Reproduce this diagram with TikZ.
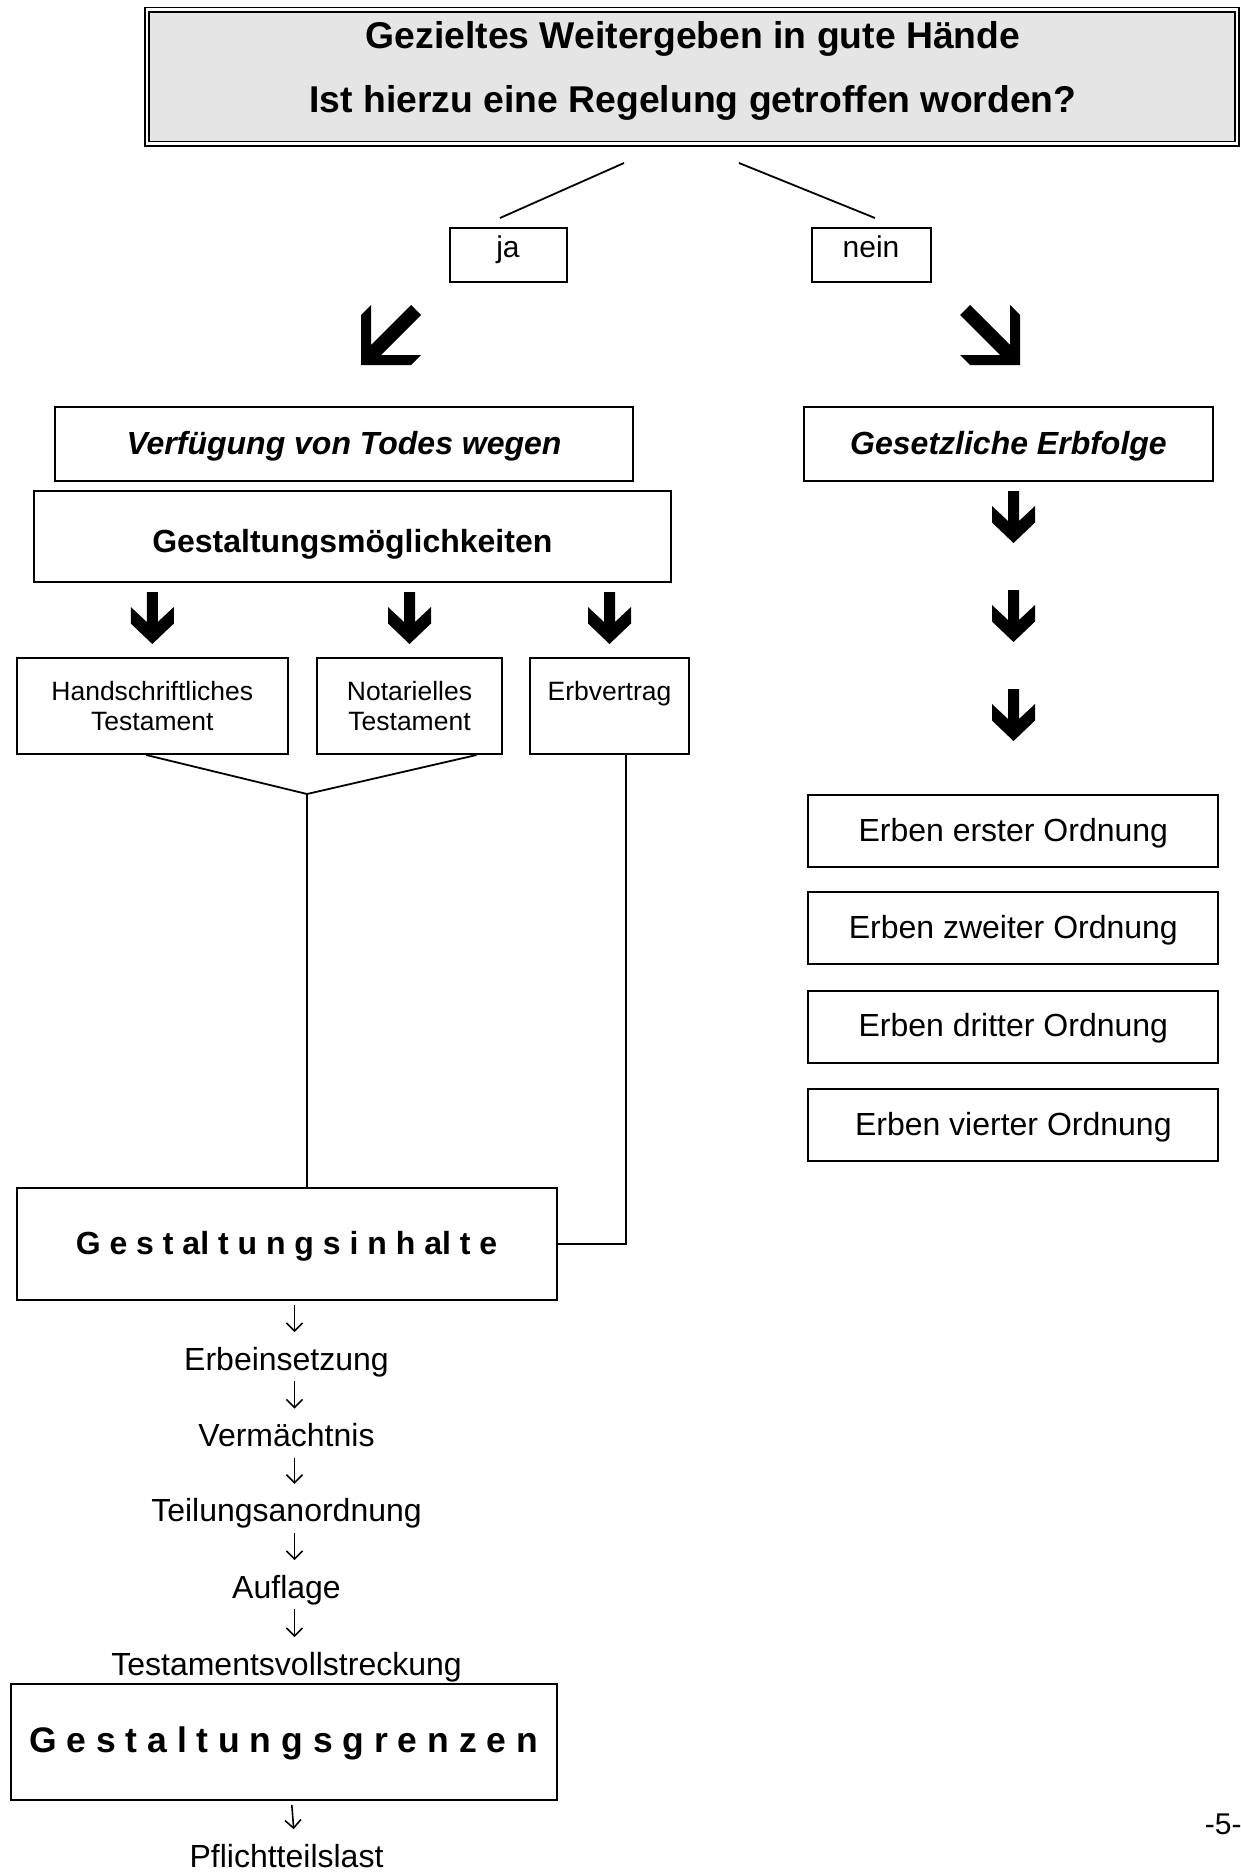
\documentclass[tikz,border=0pt]{standalone}
\usepackage{fontspec}
\setmainfont{Liberation Sans}
\usetikzlibrary{calc,arrows.meta}
\newcommand{\fsz}[2]{\fontsize{#1}{#2}\selectfont}

\begin{document}
\begin{tikzpicture}[x=1pt, y=-1pt, line width=1.8pt,
		every node/.style={inner sep=0pt},
		box/.style={draw, line width=2pt, align=center},
		onel/.style={text height=27pt, text depth=6.5pt},
		>={Straight Barb[length=8pt,width=16pt]},
		listarrow/.style={->, line width=1.6pt, shorten <=4pt, shorten >=10pt},
		bigdown/.pic={\fill (-5.5,0) -- (5.5,0) -- (5.5,30) -- (21.5,15) -- (21.5,31.5) -- (0,52) -- (-21.5,31.5) -- (-21.5,15) -- (-5.5,30) -- cycle;},
		swarrow/.pic={\fill (0,0) -- (0,-50) -- (10,-60) -- (10,-20) -- (50,-60) -- (60,-50) -- (20,-10) -- (60,-10) -- (50,0) -- cycle;},
		searrow/.pic={\fill (0,0) -- (0,-50) -- (-10,-60) -- (-10,-20) -- (-50,-60) -- (-60,-50) -- (-20,-10) -- (-60,-10) -- (-50,0) -- cycle;}]
		\useasboundingbox (0,0) rectangle (1241,1874);

		% Frage
		\node[draw, line width=1.6pt, double, double distance=2.8pt, fill=black!10,
			minimum width=1090pt, minimum height=134pt] (titlebox) at (692,76.7) {};
		\node[align=center, font=\fsz{37.3}{64}\bfseries] (title) at (693,71)
			{Gezieltes Weitergeben in gute Hände\\Ist hierzu eine Regelung getroffen worden?};

		% ja / nein
		\node[box, font=\fsz{30}{36}, minimum width=117pt, minimum height=54pt,
			text height=22pt, text depth=17pt] (ja) at (508,255) {ja};
		\node[box, font=\fsz{30}{36}, minimum width=119pt, minimum height=54pt,
			text height=22pt, text depth=17pt] (nein) at (871,255) {nein};
		\coordinate (jastart) at (624,163);
		\coordinate (jaend) at (500,218);
		\coordinate (neinstart) at (739,163);
		\coordinate (neinend) at (875,218);
		\draw (jastart) -- (jaend);
		\draw (neinstart) -- (neinend);
		\pic at (361,365) {swarrow};
		\pic at (1020,365) {searrow};

		% Linke Seite
		\node[box, onel, font=\fsz{32}{38}\bfseries\itshape, minimum width=578pt, minimum height=74pt] (verf) at (344,444) {Verfügung von Todes wegen};
		\node[box, font=\fsz{32}{38}\bfseries, minimum width=637pt, minimum height=91pt,
			text height=31pt, text depth=0pt] (gmoegl) at (352.3,536.6) {Gestaltungsmöglichkeiten};
		\pic at (152.3,592) {bigdown};
		\pic at (409.5,592) {bigdown};
		\pic at (609.5,592) {bigdown};
		\node[box, font=\fsz{26.5}{30}, minimum width=271pt, minimum height=96pt] (hand) at (152.3,706) {Handschriftliches\\Testament};
		\node[box, font=\fsz{26.5}{30}, minimum width=185pt, minimum height=96pt] (notar) at (409.5,706) {Notarielles\\Testament};
		\node[box, font=\fsz{26.5}{30}, minimum width=159pt, minimum height=96pt] (erbv) at (609.5,706) {Erbvertrag\\\mbox{}};

		\node[box, onel, font=\fsz{32}{38}\bfseries, minimum width=540pt, minimum height=112pt] (inhalte) at (286.5,1244) {G e s t al t u n g s i n h al t e};
		\coordinate (merge) at (307,794);
		\draw ($(hand.south)+(-6,0)$) -- (merge) -- ($(notar.south)+(67,0)$);
		\draw (merge) -- (merge |- inhalte.north);
		\draw ($(erbv.south)+(16.5,0)$) |- (inhalte.east);

		% Inhalte
		\node[onel, font=\fsz{32}{38}, anchor=base] (erbein) at (286.5,1370) {Erbeinsetzung};
		\node[onel, font=\fsz{32}{38}, anchor=base] (verm) at (286.5,1446.5) {Vermächtnis};
		\node[onel, font=\fsz{32}{38}, anchor=base] (teil) at (286.5,1521.7) {Teilungsanordnung};
		\node[onel, font=\fsz{32}{38}, anchor=base] (aufl) at (286.5,1598) {Auflage};
		\node[onel, font=\fsz{32}{38}, anchor=base] (tv) at (286.5,1675) {Testamentsvollstreckung};
		\draw[listarrow] ([xshift=8pt]inhalte.south) -- ([xshift=8pt]erbein.north);
		\draw[listarrow] ([xshift=8pt]erbein.south) -- ([xshift=8pt]verm.north);
		\draw[listarrow] ([xshift=8pt]verm.south) -- ([xshift=8pt]teil.north);
		\draw[listarrow] ([xshift=8pt]teil.south) -- ([xshift=8pt]aufl.north);
		\draw[listarrow] ([xshift=8pt]aufl.south) -- ([xshift=8pt]tv.north);

		% Grenzen
		\node[box, font=\fsz{35.5}{42}\bfseries, minimum width=546pt, minimum height=116pt,
			text height=29pt, text depth=9pt] (grenzen) at (283.5,1742) {G e s t a l t u n g s g r e n z e n};
		\node[onel, font=\fsz{32}{38}, anchor=base] (pflicht) at (286.5,1867) {Pflichtteilslast};
		\draw[listarrow] ([xshift=8pt]grenzen.south) -- ([xshift=8pt]pflicht.north);

		% Rechte Seite
		\node[box, onel, font=\fsz{32}{38}\bfseries\itshape, minimum width=409pt, minimum height=74pt] (gesetz) at (1008.5,444) {Gesetzliche Erbfolge};
		\pic at (1013.5,491) {bigdown};
		\pic at (1013.5,590) {bigdown};
		\pic at (1013.5,689) {bigdown};
		\node[box, onel, font=\fsz{32}{38}, minimum width=410pt, minimum height=72pt] (ord1) at (1013.3,831) {Erben erster Ordnung};
		\node[box, onel, font=\fsz{32}{38}, minimum width=410pt, minimum height=72pt] (ord2) at (1013.3,928.3) {Erben zweiter Ordnung};
		\node[box, onel, font=\fsz{32}{38}, minimum width=410pt, minimum height=72pt] (ord3) at (1013.3,1026.5) {Erben dritter Ordnung};
		\node[box, onel, font=\fsz{32}{38}, minimum width=410pt, minimum height=72pt] (ord4) at (1013.3,1124.8) {Erben vierter Ordnung};

		% Seitenzahl
		\node[font=\fsz{30}{34}, anchor=base west] (seite) at (1204,1834) {-5-};
	\end{tikzpicture}
\end{document}
